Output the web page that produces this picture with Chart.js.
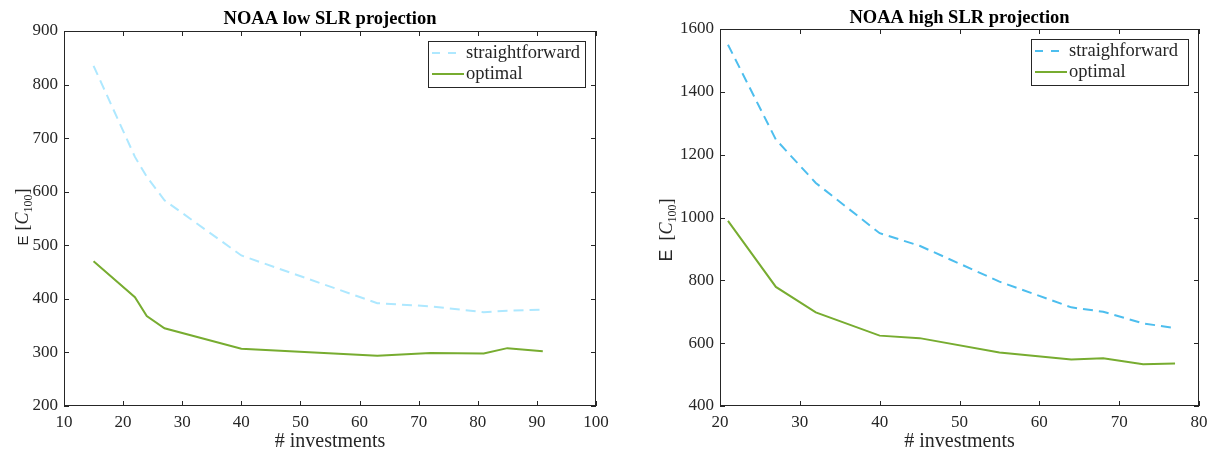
<!DOCTYPE html>
<html>
<head>
<meta charset="utf-8">
<script src="https://cdn.jsdelivr.net/npm/chart.js@4.4.1/dist/chart.umd.min.js"></script>
<style>
  html, body { margin: 0; padding: 0; background: #fff; }
  .panel { position: absolute; top: 0; height: 453px; }
  #left { left: 0; width: 610px; }
  #right { left: 610px; width: 601px; }
</style>
</head>
<body>
<div class="panel" id="left"><canvas id="lowChart"></canvas></div>
<div class="panel" id="right"><canvas id="highChart"></canvas></div>
<script>
// NOAA low SLR projection
const lowInvestments = [15, 22, 24, 27, 40, 63, 72, 81, 85, 91];
const lowStraight = [835, 665, 628, 584, 481, 392, 386, 375, 378, 380];
const lowOptimal = [470, 403, 368, 345, 307, 294, 299, 298, 308, 302];
const lowXTicks = [10, 20, 30, 40, 50, 60, 70, 80, 90, 100];
const lowYTicks = [200, 300, 400, 500, 600, 700, 800, 900];

// NOAA high SLR projection
const highInvestments = [21, 27, 32, 40, 45, 55, 64, 68, 73, 77];
const highStraight = [1550, 1248, 1110, 950, 910, 796, 714, 700, 663, 648];
const highOptimal = [989, 779, 698, 624, 616, 570, 548, 552, 533, 535];
const highXTicks = [20, 30, 40, 50, 60, 70, 80];
const highYTicks = [400, 600, 800, 1000, 1200, 1400, 1600];

const SERIF = "'Liberation Serif', 'Times New Roman', serif";
const SANS = "'Liberation Sans', Arial, sans-serif";
const INK = '#262626';
const GREEN = '#77AC30';

function pairs(xs, ys) {
    return xs.map((x, i) => ({ x: x, y: ys[i] }));
}

// draws the matlab-ish box, inward ticks, titles and the framed legend
const matlabFrame = {
    id: 'matlabFrame',
    afterDatasetsDraw(chart, args, opts) {
        const ctx = chart.ctx;
        const a = chart.chartArea;
        const xs = chart.scales.x, ys = chart.scales.y;
        ctx.save();
        ctx.strokeStyle = INK;
        ctx.lineWidth = 1;
        ctx.setLineDash([]);
        ctx.strokeRect(a.left + 0.5, a.top + 0.5, a.right - a.left - 1, a.bottom - a.top - 1);
        ctx.beginPath();
        xs.ticks.forEach(t => {
            const px = Math.round(xs.getPixelForValue(t.value)) + 0.5;
            ctx.moveTo(px, a.bottom); ctx.lineTo(px, a.bottom - 5);
            ctx.moveTo(px, a.top); ctx.lineTo(px, a.top + 5);
        });
        ys.ticks.forEach(t => {
            const py = Math.round(ys.getPixelForValue(t.value)) + 0.5;
            ctx.moveTo(a.left, py); ctx.lineTo(a.left + 5, py);
            ctx.moveTo(a.right, py); ctx.lineTo(a.right - 5, py);
        });
        ctx.stroke();

        // title
        ctx.fillStyle = '#000';
        ctx.textAlign = 'center';
        ctx.textBaseline = 'middle';
        ctx.font = 'bold 18.5px ' + SERIF;
        ctx.fillText(opts.title, (a.left + a.right) / 2, opts.titleY);

        // x title
        ctx.fillStyle = INK;
        ctx.font = '20px ' + SERIF;
        ctx.fillText('# investments', (a.left + a.right) / 2, 442);

        // y title: E [C_100]
        ctx.save();
        ctx.translate(opts.yTitleX, opts.yTitleY);
        ctx.rotate(-Math.PI / 2);
        const parts = [
            { t: 'E', f: opts.eFont + 'px ' + SANS, dy: 0, gap: opts.eGap },
            { t: '[', f: '18px ' + SERIF, dy: 0, gap: 0 },
            { t: 'C', f: 'italic 18px ' + SERIF, dy: 0, gap: 0 },
            { t: '100', f: '12px ' + SERIF, dy: 4, gap: 0 },
            { t: ']', f: '18px ' + SERIF, dy: 0, gap: 0 }
        ];
        let total = 0;
        parts.forEach(p => { ctx.font = p.f; p.w = ctx.measureText(p.t).width + p.gap; total += p.w; });
        let cx = -total / 2;
        ctx.textAlign = 'left';
        ctx.textBaseline = 'alphabetic';
        parts.forEach(p => {
            ctx.font = p.f;
            ctx.fillText(p.t, cx, 6 + p.dy);
            cx += p.w;
        });
        ctx.restore();

        // legend
        const bw = 157, bh = 46;
        const bx = a.right - 11 - bw, by = a.top + 10;
        ctx.fillStyle = '#fff';
        ctx.fillRect(bx, by, bw, bh);
        ctx.strokeStyle = INK;
        ctx.strokeRect(bx + 0.5, by + 0.5, bw, bh);
        chart.data.datasets.forEach((ds, i) => {
            const ly = by + 12 + i * 21;
            ctx.beginPath();
            ctx.strokeStyle = ds.borderColor;
            ctx.lineWidth = 2;
            ctx.setLineDash(ds.borderDash ? [8, 8] : []);
            ctx.moveTo(bx + 4, ly);
            ctx.lineTo(bx + 36, ly);
            ctx.stroke();
            ctx.setLineDash([]);
            ctx.fillStyle = INK;
            ctx.font = '18.5px ' + SERIF;
            ctx.textAlign = 'left';
            ctx.textBaseline = 'middle';
            ctx.fillText(ds.label, bx + 38, ly);
        });
        ctx.restore();
    }
};

function makeChart(id, cfg) {
    return new Chart(document.getElementById(id), {
        type: 'line',
        data: {
            datasets: [
                {
                    label: cfg.straightLabel,
                    data: pairs(cfg.xs, cfg.straight),
                    borderColor: cfg.straightColor,
                    borderWidth: 2,
                    borderDash: [10, 6],
                    pointRadius: 0,
                    tension: 0
                },
                {
                    label: 'optimal',
                    data: pairs(cfg.xs, cfg.optimal),
                    borderColor: GREEN,
                    borderWidth: 2,
                    pointRadius: 0,
                    tension: 0
                }
            ]
        },
        options: {
            responsive: true,
            maintainAspectRatio: false,
            animation: false,
            layout: { padding: { top: cfg.top, right: cfg.right, left: 0, bottom: 0 } },
            scales: {
                x: {
                    type: 'linear',
                    min: cfg.xTicks[0],
                    max: cfg.xTicks[cfg.xTicks.length - 1],
                    grid: { display: false, drawTicks: false },
                    border: { display: false },
                    afterBuildTicks: s => { s.ticks = cfg.xTicks.map(v => ({ value: v })); },
                    afterFit: s => { s.height = 47; s.paddingLeft = 0; s.paddingRight = 0; },
                    ticks: { color: INK, font: { family: SERIF, size: 17 }, padding: 6, maxRotation: 0,
                             callback: v => String(v) }
                },
                y: {
                    min: cfg.yTicks[0],
                    max: cfg.yTicks[cfg.yTicks.length - 1],
                    grid: { display: false, drawTicks: false },
                    border: { display: false },
                    afterBuildTicks: s => { s.ticks = cfg.yTicks.map(v => ({ value: v })); },
                    afterFit: s => { s.width = cfg.yWidth; s.paddingTop = 0; s.paddingBottom = 0; },
                    ticks: { color: INK, font: { family: SERIF, size: 17 }, padding: 6,
                             callback: v => String(v) }
                }
            },
            plugins: {
                legend: { display: false },
                tooltip: { enabled: false },
                matlabFrame: {
                    title: cfg.title, titleY: cfg.titleY,
                    yTitleX: cfg.yTitleX, yTitleY: cfg.yTitleY, eFont: cfg.eFont, eGap: cfg.eGap
                }
            }
        },
        plugins: [matlabFrame]
    });
}

makeChart('lowChart', {
    title: 'NOAA low SLR projection',
    straightLabel: 'straightforward',
    straightColor: '#AEE8FF',
    xs: lowInvestments, straight: lowStraight, optimal: lowOptimal,
    xTicks: lowXTicks, yTicks: lowYTicks,
    top: 31, right: 14, yWidth: 64, titleY: 19,
    yTitleX: 22, yTitleY: 217, eFont: 15, eGap: 5
});

makeChart('highChart', {
    title: 'NOAA high SLR projection',
    straightLabel: 'straighforward',
    straightColor: '#4DBEEE',
    xs: highInvestments, straight: highStraight, optimal: highOptimal,
    xTicks: highXTicks, yTicks: highYTicks,
    top: 29, right: 12, yWidth: 110, titleY: 18,
    yTitleX: 56, yTitleY: 230, eFont: 18, eGap: 9
});
</script>
</body>
</html>
